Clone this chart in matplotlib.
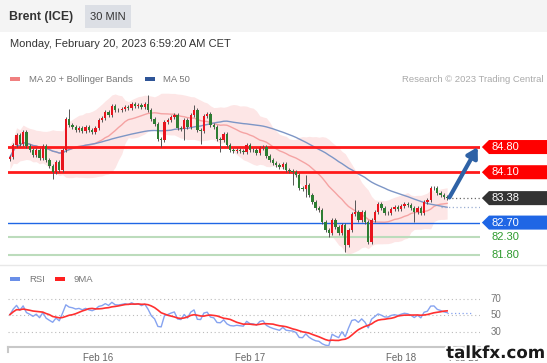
import numpy as np
import pandas as pd
import matplotlib
matplotlib.use("Agg")
import matplotlib.pyplot as plt
from matplotlib.patches import Rectangle, Polygon
from matplotlib.lines import Line2D
import matplotlib.patheffects as pe

plt.rcParams['font.family'] = ['Liberation Sans', 'DejaVu Sans']

W, H = 547, 363

# 30 min closes, Brent (ICE)
closes = [
    84.52, 84.86, 85.13, 84.88, 85.22, 84.83, 84.72, 84.58, 84.72, 84.49,
    84.83, 84.44, 84.27, 84.11, 84.38, 84.16, 84.72, 85.58, 85.41, 85.36,
    85.27, 85.33, 85.24, 85.36, 85.27, 85.22, 85.33, 85.55, 85.61, 85.77,
    85.69, 85.94, 85.83, 85.82, 85.86, 85.91, 85.88, 85.99, 85.94, 85.97,
    85.91, 85.99, 85.83, 85.58, 85.44, 85.02, 84.99, 85.49, 85.55, 85.63,
    85.69, 85.33, 85.30, 85.55, 85.36, 85.69, 85.83, 85.27, 85.25, 85.66,
    85.72, 85.41, 85.36, 85.02, 85.00, 85.16, 84.86, 84.72, 84.69, 84.72,
    84.69, 84.66, 84.86, 84.72, 84.71, 84.63, 84.77, 84.80, 84.55, 84.44,
    84.36, 84.30, 84.24, 84.33, 84.16, 84.13, 84.11, 84.02, 83.66, 83.64,
    83.74, 83.47, 83.27, 83.11, 83.05, 82.72, 82.49, 82.41, 82.77, 82.58,
    82.41, 82.63, 82.08, 82.49, 82.94, 82.99, 82.77, 82.99, 82.72, 82.16,
    82.77, 82.99, 83.22, 83.11, 82.97, 82.96, 83.08, 83.13, 83.08, 83.16,
    83.22, 83.19, 83.11, 82.99, 83.11, 82.97, 83.27, 83.33, 83.66, 83.67,
    83.52, 83.47, 83.41, 83.38,
]
first_open = 84.47
# notable wick extremes (index: price)
wick_hi = {18: 85.86, 42: 86.24, 56: 85.97, 72: 84.91, 90: 84.02, 105: 83.33}
wick_lo = {13: 83.91, 46: 84.80, 53: 84.99, 58: 84.88, 64: 84.66, 86: 83.74,
           90: 83.41, 97: 82.30, 102: 81.88, 123: 82.72}

res_levels = [84.80, 84.10]
last_price = 83.38
pivot_level = 82.70
sup_levels = [82.30, 81.80]

day_pos = [26.7, 73, 119, 138]
day_labels = ["Feb 16", "Feb 17", "Feb 18", "Feb 20"]
rsi_levels = [30, 50, 70]

s = pd.Series(closes)
opens = pd.Series([first_open] + closes[:-1])
n = len(s)
idx = np.arange(n)
top = np.maximum(s, opens)
bot = np.minimum(s, opens)
highs = np.array([wick_hi.get(i, top[i] + 0.05) for i in range(n)])
lows = np.array([wick_lo.get(i, bot[i] - 0.05) for i in range(n)])

ma20 = s.rolling(20, min_periods=1).mean()
sd20 = s.rolling(20, min_periods=2).std(ddof=0).bfill()
ma50 = s.rolling(50, min_periods=1).mean()

# Wilder RSI(14), averages seeded evenly so it starts near 50
d = (s - opens).values
seed = np.abs(d).mean() / 2
au, ad = seed, seed
rsi_vals = []
for x in d:
    au = (au * 13 + max(x, 0)) / 14
    ad = (ad * 13 + max(-x, 0)) / 14
    rsi_vals.append(100 - 100 / (1 + au / ad))
rsi = pd.Series(rsi_vals)
rsi9 = rsi.rolling(9, min_periods=1).mean()

def fx(x):
    return x / W

def fy(y):
    return 1 - y / H

fig = plt.figure(figsize=(W/100, H/100), dpi=100)

# header
fig.patches.append(Rectangle((0, fy(32)), 1, 32/H, transform=fig.transFigure,
                             facecolor='#f4f4f4', edgecolor='none', zorder=0))
fig.patches.append(Rectangle((fx(85), fy(28)), 46/W, 23/H, transform=fig.transFigure,
                             facecolor='#dcdfe5', edgecolor='none', zorder=1))
fig.text(fx(9), fy(17), "Brent (ICE)", fontsize=8.8, fontweight='bold', color='#333', va='center')
fig.text(fx(108), fy(17), "30 MIN", fontsize=8, color='#333', va='center', ha='center')
fig.text(fx(10), fy(44), "Monday, February 20, 2023 6:59:20 AM CET", fontsize=8, color='#333', va='center')

# legend row
fig.patches.append(Rectangle((fx(10), fy(81)), 10/W, 4/H, transform=fig.transFigure, facecolor='#f08080'))
fig.text(fx(29), fy(79), "MA 20 + Bollinger Bands", fontsize=6.8, color='#777', va='center')
fig.patches.append(Rectangle((fx(145), fy(81)), 10/W, 4/H, transform=fig.transFigure, facecolor='#2f5597'))
fig.text(fx(163), fy(79), "MA 50", fontsize=6.8, color='#777', va='center')
fig.text(fx(543), fy(79), "Research \u00a9 2023 Trading Central", fontsize=6.8, color='#aaa', va='center', ha='right')

# price panel
ax = fig.add_axes([fx(8), fy(260), (480-8)/W, (260-92)/H])
ax.set_xlim(-0.6, 143)
ax.set_ylim(81.66, 86.33)
ax.axis('off')

ax.fill_between(idx, ma20 - 2*sd20, ma20 + 2*sd20, color='#fde0e0', alpha=0.8, lw=0, zorder=1)
ax.plot(idx, ma20, color='#f5a3a3', lw=1, zorder=2)
ax.plot(idx, ma50, color='#7d96c6', lw=1, zorder=2)

for lv in res_levels:
    ax.axhline(lv, color='#ff1a1a', lw=2, zorder=3)
ax.axhline(pivot_level, color='#1f66e5', lw=1, zorder=3)
for lv in sup_levels:
    ax.axhline(lv, color='#bcdcbc', lw=1.5, zorder=3)

ax.vlines(idx, lows, highs, color='#555', lw=0.7, zorder=4)
body = np.maximum(top - bot, 0.015)
cols = np.where(s >= opens, '#e8141e', '#2e7d32')
ax.bar(idx, body, bottom=bot, width=0.72, color=cols, lw=0, zorder=5)

ax.plot([n - 0.6, 143], [last_price, last_price], color='#666', lw=0.9, ls=(0, (1, 2)), zorder=3)
ax.plot([n - 3, 143], [ma50.iloc[-1], ma50.iloc[-1]], color='#9aaed2', lw=0.9, ls=(0, (1, 2)), zorder=3)

ax.annotate("", xy=(142.3, res_levels[0]), xytext=(n - 0.3, last_price + 0.02),
            arrowprops=dict(arrowstyle='-|>,head_length=0.6,head_width=0.35',
                            color='#2e62a6', lw=3, shrinkA=0, shrinkB=0), zorder=6)

tr = ax.get_yaxis_transform()
def tag(y, text, face):
    hh = 0.195
    poly = Polygon([(1.004, y), (1.019, y + hh), (1.2, y + hh), (1.2, y - hh), (1.019, y - hh)],
                   closed=True, transform=tr, clip_on=False, facecolor=face, edgecolor='none')
    ax.add_patch(poly)
    ax.text(1.024, y, text, transform=tr, color='white', va='center', ha='left', fontsize=8)

for lv in res_levels:
    tag(lv, f"{lv:.2f}", '#ff0000')
tag(last_price, f"{last_price:.2f}", '#333333')
tag(pivot_level, f"{pivot_level:.2f}", '#1f66e5')
for lv in sup_levels:
    ax.text(1.024, lv, f"{lv:.2f}", transform=tr, color='#2e9a2e', va='center', ha='left', fontsize=8)

# separator
fig.add_artist(Line2D([0, 1], [fy(265), fy(265)], color='#e8e8e8', lw=1))

# RSI legend
fig.patches.append(Rectangle((fx(10), fy(281)), 10/W, 4/H, transform=fig.transFigure, facecolor='#6a8fe8'))
fig.text(fx(29), fy(279), "RSI", fontsize=6.8, color='#777', va='center')
fig.patches.append(Rectangle((fx(55), fy(281)), 10/W, 4/H, transform=fig.transFigure, facecolor='#ff2020'))
fig.text(fx(73), fy(279), "9MA", fontsize=6.8, color='#777', va='center')

# RSI panel
axr = fig.add_axes([fx(8), fy(347), (480-8)/W, (347-290)/H])
axr.set_xlim(-0.6, 143)
ymin = 30 - (347 - 332) / 0.82
ymax = 70 + (299 - 290) / 0.82
axr.set_ylim(ymin, ymax)
for sp in ['top', 'right', 'left']:
    axr.spines[sp].set_visible(False)
axr.spines['bottom'].set_color('#c8c8c8')
axr.spines['bottom'].set_linewidth(1.5)
axr.set_xticks([])
axr.set_yticks([])
axr.add_line(Line2D([0, 0], [0, -0.08], transform=axr.transAxes, color='#c8c8c8', lw=1.5, clip_on=False))

for lv in rsi_levels:
    axr.axhline(lv, color='#bbbbbb', lw=0.8, ls=(0, (1, 2.5)))
    axr.text(1.023, lv, str(lv), transform=axr.get_yaxis_transform(), color='#777', fontsize=7, va='center')
axr.plot(idx, rsi, color='#86a3f0', lw=1)
axr.plot(idx, rsi9, color='#ff3030', lw=1.2)
axr.plot([n - 1, 141], [rsi.iloc[-1]] * 2, color='#86a3f0', lw=0.9, ls=(0, (1, 2)))

xt = axr.get_xaxis_transform()
for p, lab in zip(day_pos, day_labels):
    axr.text(p, -0.19, lab, transform=xt, ha='center', va='center', fontsize=7, color='#666')

fig.text(fx(545), fy(353), "talkfx.com", ha='right', va='center', fontsize=12, fontweight='bold',
         color='#1a1a1a', family='DejaVu Sans',
         path_effects=[pe.withStroke(linewidth=3, foreground='white')])

fig.savefig("out.png", dpi=100)
